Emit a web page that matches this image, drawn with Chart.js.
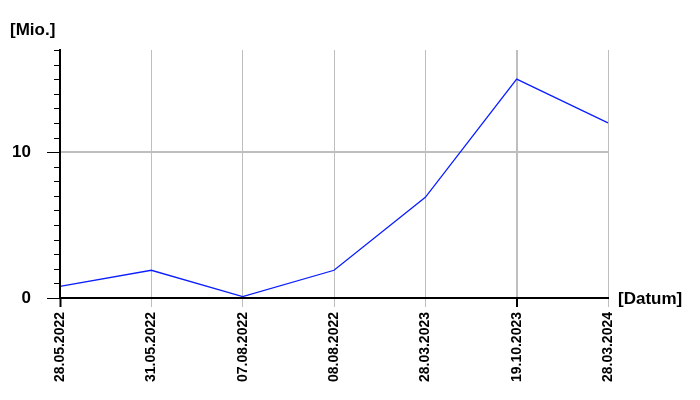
<!DOCTYPE html>
<html>
<head>
<meta charset="utf-8">
<script src="https://cdn.jsdelivr.net/npm/chart.js@4"></script>
<style>
html,body{margin:0;padding:0;background:#fff;}
#wrap{width:700px;height:400px;position:relative;}
</style>
</head>
<body>
<div id="wrap"><canvas id="c" width="700" height="400"></canvas></div>
<script>
const categories = ["28.05.2022","31.05.2022","07.08.2022","08.08.2022","28.03.2023","19.10.2023","28.03.2024"];
const values = [0.8, 1.9, 0.1, 1.9, 6.9, 15.0, 12.0];
const yLabeled = [0, 10];
const yUnit = "[Mio.]";
const xUnit = "[Datum]";

const FONT = "'Liberation Sans', Arial, sans-serif";

const extras = {
  id: 'extras',
  afterDraw(chart) {
    const ctx = chart.ctx;
    const y = chart.scales.y;
    const x0 = chart.chartArea.left;
    ctx.save();
    ctx.strokeStyle = '#000';
    ctx.lineWidth = 1;
    for (let v = y.min; v <= y.max; v++) {
      const py = Math.round(y.getPixelForValue(v)) + 0.5;
      const len = yLabeled.includes(v) ? 13 : 6;
      ctx.beginPath();
      ctx.moveTo(x0 - len, py);
      ctx.lineTo(x0, py);
      ctx.stroke();
    }
    ctx.fillStyle = '#000';
    ctx.font = 'bold 17px ' + FONT;
    ctx.textBaseline = 'middle';
    ctx.textAlign = 'left';
    ctx.fillText(yUnit, 10, 30);
    ctx.fillText(xUnit, chart.chartArea.right + 10, y.getPixelForValue(0) + 1);
    ctx.restore();
  }
};

new Chart(document.getElementById('c'), {
  type: 'line',
  data: {
    labels: categories,
    datasets: [{
      data: values,
      borderColor: 'rgb(10,30,255)',
      borderWidth: 1.3,
      pointRadius: 0,
      tension: 0,
      fill: false
    }]
  },
  options: {
    responsive: false,
    animation: false,
    layout: { padding: { left: 0, right: 92, top: 50, bottom: 0 } },
    plugins: { legend: { display: false }, tooltip: { enabled: false } },
    scales: {
      x: {
        type: 'category',
        offset: false,
        afterFit(s) { s.height = 102; },
        border: { display: true, color: '#000', width: 2, z: 1 },
        grid: {
          color: 'rgb(190,190,190)',
          lineWidth: (c) => c.index === 5 ? 2 : 1,
          tickColor: (c) => (c.index === 0 || c.index === 5) ? '#000' : 'rgb(190,190,190)',
          tickWidth: (c) => (c.index === 0 || c.index === 5) ? 2 : 1,
          tickLength: 9
        },
        ticks: {
          color: '#000',
          font: { family: FONT, size: 14, weight: 'bold' },
          minRotation: 90,
          maxRotation: 90,
          autoSkip: false,
          padding: 5
        }
      },
      y: {
        min: 0,
        max: 17,
        afterFit(s) { s.width = 60; },
        border: { display: true, color: '#000', width: 2, z: 1 },
        grid: {
          color: (c) => c.tick && c.tick.value === 10 ? 'rgb(190,190,190)' : 'rgba(0,0,0,0)',
          lineWidth: 2,
          tickColor: 'rgba(0,0,0,0)',
          tickLength: 13
        },
        ticks: {
          stepSize: 1,
          color: '#000',
          font: { family: FONT, size: 17, weight: 'bold' },
          padding: 16,
          callback: (v) => yLabeled.includes(v) ? String(v) : ''
        }
      }
    }
  },
  plugins: [extras]
});
</script>
</body>
</html>
